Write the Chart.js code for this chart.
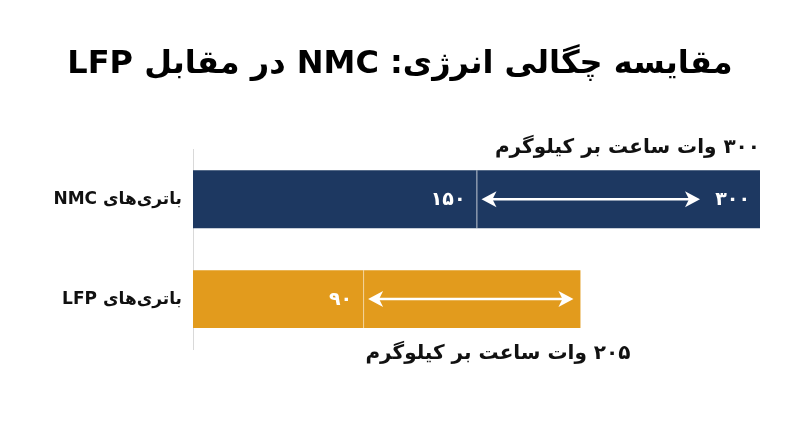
<!DOCTYPE html>
<html lang="fa">
<head>
<meta charset="utf-8">
<script src="https://cdn.jsdelivr.net/npm/chart.js@4"></script>
<style>
  html, body { margin: 0; padding: 0; background: #fff; }
  #wrap { width: 800px; height: 447px; }
</style>
</head>
<body>
<div id="wrap"><canvas id="chart" dir="rtl"></canvas></div>
<script>
// ========== داده‌ها ==========
const categories = ['باتری‌های NMC', 'باتری‌های LFP'];
const minDensity = [150, 90];
const maxDensity = [300, 205];
const barColors = ['#1d3861', '#e29b1d'];
const unitText = 'وات ساعت بر کیلوگرم';
const titleText = 'مقایسه چگالی انرژی: NMC در مقابل LFP';

const FONT = '"DejaVu Sans", "Noto Sans", sans-serif';

// ارقام فارسی
function fa(n) {
  return String(n).replace(/\d/g, d => '۰۱۲۳۴۵۶۷۸۹'[d]);
}

// ========== پلاگین برچسب‌ها و فلش‌ها ==========
const rangePlugin = {
  id: 'rangeMarks',
  afterDatasetsDraw(chart) {
    const ctx = chart.ctx;
    const xs = chart.scales.x;
    const meta = chart.getDatasetMeta(1);
    ctx.save();
    ctx.direction = 'rtl';
    ctx.textBaseline = 'middle';

    categories.forEach((cat, i) => {
      const bar = meta.data[i];
      const top = bar.y - bar.height / 2;
      const bottom = bar.y + bar.height / 2;
      const xMin = xs.getPixelForValue(minDensity[i]);
      const xMax = xs.getPixelForValue(maxDensity[i]);

      // خط جداکننده
      ctx.strokeStyle = 'rgba(255,255,255,0.55)';
      ctx.lineWidth = 1;
      ctx.beginPath();
      ctx.moveTo(xMin + 0.5, top);
      ctx.lineTo(xMin + 0.5, bottom);
      ctx.stroke();

      ctx.fillStyle = '#fff';
      ctx.font = 'bold 19px ' + FONT;
      ctx.textAlign = 'right';
      ctx.fillText(fa(minDensity[i]), xMin - 11, bar.y + 1);

      // فلش دوطرفه
      let arrowEnd = xMax - 7;
      if (i === 0) {
        ctx.fillText(fa(maxDensity[i]), xMax - 10, bar.y + 1);
        arrowEnd = xMax - 60;
      }
      const a0 = xMin + 5;
      ctx.strokeStyle = '#fff';
      ctx.lineWidth = 2.5;
      ctx.beginPath();
      ctx.moveTo(a0 + 8, bar.y);
      ctx.lineTo(arrowEnd - 8, bar.y);
      ctx.stroke();
      ctx.beginPath();
      ctx.moveTo(a0, bar.y);
      ctx.lineTo(a0 + 15, bar.y - 8);
      ctx.lineTo(a0 + 11, bar.y);
      ctx.lineTo(a0 + 15, bar.y + 8);
      ctx.closePath();
      ctx.moveTo(arrowEnd, bar.y);
      ctx.lineTo(arrowEnd - 15, bar.y - 8);
      ctx.lineTo(arrowEnd - 11, bar.y);
      ctx.lineTo(arrowEnd - 15, bar.y + 8);
      ctx.closePath();
      ctx.fill();

      // برچسب مقدار بیشینه بیرون میله
      ctx.fillStyle = '#111';
      ctx.font = 'bold 20px ' + FONT;
      const label = fa(maxDensity[i]) + ' ' + unitText;
      if (i === 0) {
        ctx.fillText(label, xMax, top - 23);
      } else {
        ctx.fillText(label, xMax + 50, bottom + 26);
      }
    });
    ctx.restore();
  }
};

// ========== نمودار ==========
new Chart(document.getElementById('chart'), {
  type: 'bar',
  data: {
    labels: categories,
    datasets: [
      {
        data: categories.map((c, i) => [0, minDensity[i]]),
        backgroundColor: barColors,
        grouped: false,
        barPercentage: 0.725,
        categoryPercentage: 0.8
      },
      {
        data: categories.map((c, i) => [minDensity[i], maxDensity[i]]),
        backgroundColor: barColors,
        grouped: false,
        barPercentage: 0.725,
        categoryPercentage: 0.8
      }
    ]
  },
  options: {
    indexAxis: 'y',
    responsive: true,
    maintainAspectRatio: false,
    animation: false,
    layout: { padding: { left: 40, right: 40, top: 0, bottom: 98 } },
    plugins: {
      legend: { display: false },
      tooltip: { enabled: false },
      title: {
        display: true,
        text: titleText,
        color: '#000',
        font: { family: FONT, size: 32, weight: 'bold' },
        padding: { top: 45, bottom: 66 }
      }
    },
    scales: {
      x: { display: false, min: 0, max: 300 },
      y: {
        afterFit: s => { s.width = 153; },
        grid: { display: false },
        border: { display: true, color: '#d9d9d9', width: 1 },
        ticks: {
          color: '#111',
          padding: 3,
          font: { family: FONT, size: 17, weight: 'bold' }
        }
      }
    }
  },
  plugins: [rangePlugin]
});
</script>
</body>
</html>
